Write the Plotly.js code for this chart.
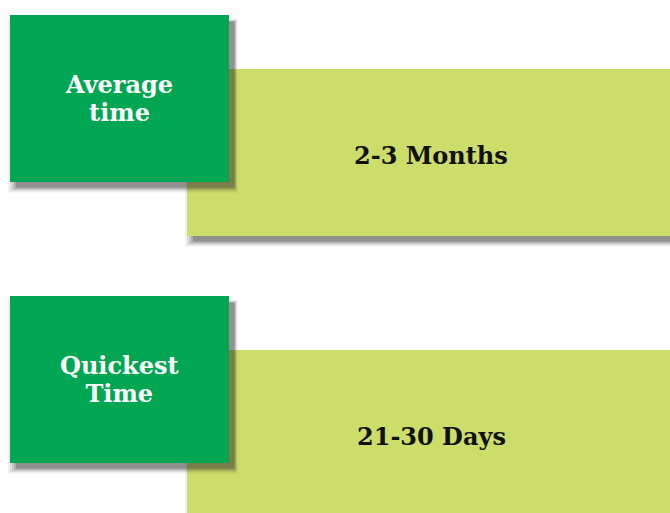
<!DOCTYPE html>
<html><head><meta charset="utf-8">
<script src="https://cdn.plot.ly/plotly-3.0.1.min.js"></script>
<style>html,body{margin:0;padding:0;background:#fff}#c{width:670px;height:513px}</style>
</head><body><div id="c"></div>
<script>
const categories = ["Average time", "Quickest Time"];
const labelLines = [["Average", "time"], ["Quickest", "Time"]];
const values = ["2-3 Months", "21-30 Days"];

const GREEN = "#00A651", LIGHT = "#CCDD6A";
const rowTop = [15, 296];
const shapes = [], ann = [];
function shadowRect(x0, y0, x1, y1) {
  const layers = [[9, 0.07], [7, 0.09], [5, 0.12], [3, 0.16], [1, 0.22]];
  layers.forEach(([s, o]) => {
    shapes.push({type: "rect", xref: "x", yref: "y", x0: x0 + 7 - s, x1: x1 + 5 + s * 0.4, y0: y0 + 7 - s * 0.3, y1: y1 + 5 + s * 0.6,
      line: {width: 0}, fillcolor: "rgba(40,40,40," + o + ")"});
  });
}
categories.forEach((c, i) => {
  const t = rowTop[i];
  shadowRect(187, t + 54, 670, t + 221);
  shapes.push({type: "rect", xref: "x", yref: "y", x0: 187, x1: 680, y0: t + 54, y1: t + 221, line: {width: 0}, fillcolor: LIGHT});
  shadowRect(10, t, 229, t + 167);
  shapes.push({type: "rect", xref: "x", yref: "y", x0: 10, x1: 229, y0: t, y1: t + 167, line: {width: 0}, fillcolor: GREEN});
  ann.push({x: 119, y: t + 83, xref: "x", yref: "y", text: "<b>" + labelLines[i].join("<br>") + "</b>", showarrow: false,
    font: {family: "DejaVu Serif", size: 24, color: "#ffffff"}, xanchor: "center", yanchor: "middle"});
  ann.push({x: 431, y: t + 140, xref: "x", yref: "y", text: "<b>" + values[i] + "</b>", showarrow: false,
    font: {family: "DejaVu Serif", size: 24, color: "#111111"}, xanchor: "center", yanchor: "middle"});
});

Plotly.newPlot("c", [{x: [], y: [], type: "scatter"}], {
  width: 670, height: 513, margin: {l: 0, r: 0, t: 0, b: 0},
  paper_bgcolor: "#ffffff", plot_bgcolor: "#ffffff", showlegend: false,
  xaxis: {range: [0, 670], visible: false, fixedrange: true},
  yaxis: {range: [513, 0], visible: false, fixedrange: true},
  shapes: shapes, annotations: ann
}, {displayModeBar: false, staticPlot: true}).then(function (gd) {
  // tighten line spacing of two-line labels, like the reference
  gd.querySelectorAll("text.annotation-text").forEach(function (tx) {
    const lines = tx.querySelectorAll("tspan.line");
    if (lines.length < 2) return;
    lines.forEach(function (ln, k) {
      if (k > 0) ln.setAttribute("dy", "1.18em");
    });
    tx.setAttribute("transform", "translate(0,1.5)");
  });
});
</script></body></html>
